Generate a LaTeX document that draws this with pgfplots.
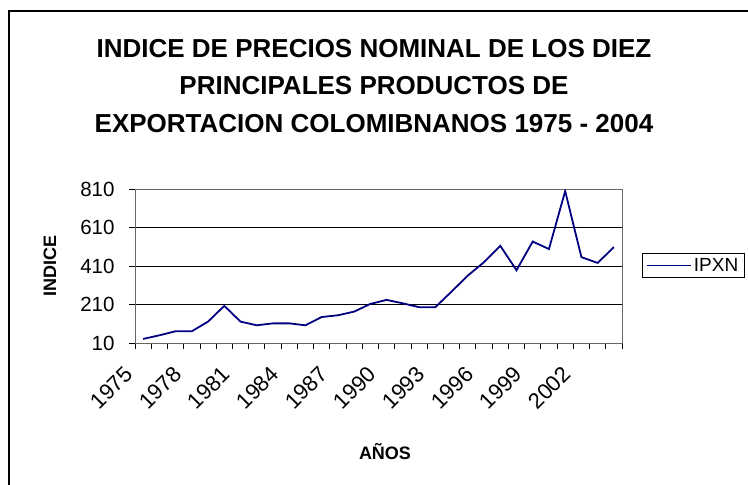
\documentclass[border=0pt]{standalone}
\usepackage{fontspec}
\setmainfont{Liberation Sans}
\usepackage{pgfplots}
\pgfplotsset{compat=1.18}
\definecolor{navyline}{RGB}{0,0,128}
\begin{document}
\begin{tikzpicture}[x=1pt,y=1pt]
\useasboundingbox (0,0) rectangle (748,485);
\draw[line width=1.3pt] (9,0) -- (9,474) -- (748,474);
\node[font=\fontsize{26}{37.5}\selectfont\bfseries, align=center] at (374,399)
  {INDICE DE PRECIOS NOMINAL DE LOS DIEZ\\PRINCIPALES PRODUCTOS DE\\EXPORTACION COLOMIBNANOS 1975 - 2004};
\node[rotate=90, font=\fontsize{18}{22}\selectfont\bfseries] at (50,219) {INDICE};
\node[font=\fontsize{18}{22}\selectfont\bfseries] at (385,33) {AÑOS};
\begin{axis}[
  at={(135pt,142pt)}, anchor=south west,
  scale only axis, width=487pt, height=154pt,
  xmin=1974.5, xmax=2004.5, ymin=10, ymax=810,
  ytick={10,210,410,610,810},
  xtick={1975,1978,1981,1984,1987,1990,1993,1996,1999,2002},
  xticklabels={1975,1978,1981,1984,1987,1990,1993,1996,1999,2002},
  minor xtick={1974.5,1975.5,...,2004.5},
  xtick pos=lower, ytick pos=left,
  tick align=outside,
  major tick length=6pt, minor tick length=6pt,
  every major x tick/.append style={draw=none},
  tick style={black, line width=0.8pt},
  ymajorgrids, grid style={black, line width=0.8pt},
  axis line style={gray!80!black, line width=0.9pt},
  /pgf/number format/assume math mode=true,
  yticklabel style={font=\fontsize{20.5}{24}\selectfont, xshift=-11pt},
  xticklabel style={font=\fontsize{22}{26}\selectfont, xshift=-12pt, yshift=-19pt, rotate=45, anchor=east},
  legend style={at={(rel axis cs:1.041,0.503)}, anchor=west, draw=black, line width=0.8pt,
    font=\fontsize{19}{23}\selectfont, inner xsep=4pt, inner ysep=2.5pt},
  legend image code/.code={\draw[#1, line width=1.6pt] (0pt,0pt) -- (44pt,0pt);},
]
\addplot[navyline, line width=1.8pt] coordinates {
(1975,31) (1976,50) (1977,71) (1978,71) (1979,121) (1980,203) (1981,121)
(1982,102) (1983,112) (1984,112) (1985,102) (1986,145) (1987,154) (1988,173)
(1989,213) (1990,234) (1991,216) (1992,196) (1993,196) (1994,277) (1995,360)
(1996,430) (1997,515) (1998,388) (1999,537) (2000,498) (2001,799) (2002,456)
(2003,426) (2004,508)
};
\addlegendentry{IPXN}
\end{axis}
\end{tikzpicture}
\end{document}
